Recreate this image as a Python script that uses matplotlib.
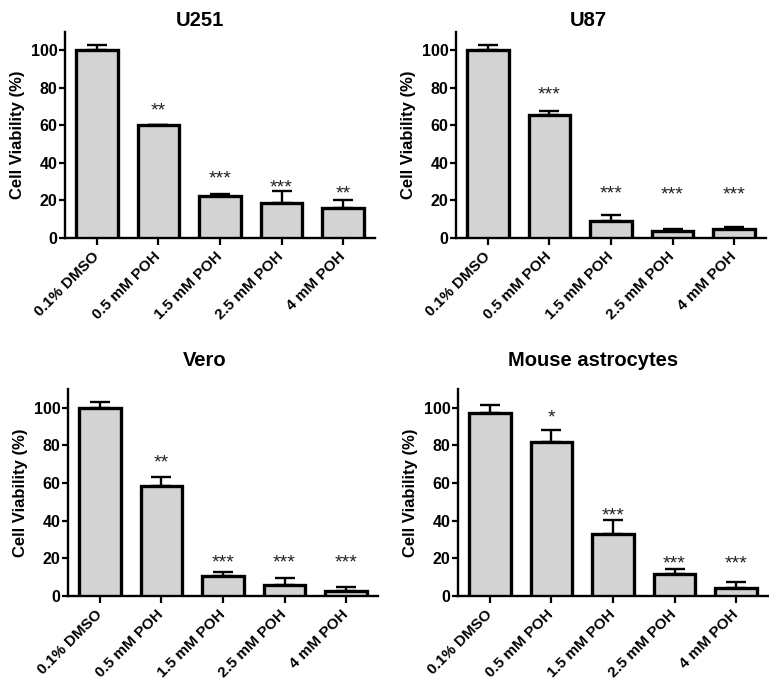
import numpy as np
import matplotlib
matplotlib.use("Agg")
import matplotlib.pyplot as plt

plt.rcParams['font.family'] = ['Liberation Sans', 'DejaVu Sans']
plt.rcParams['font.weight'] = 'bold'

groups = ["0.1% DMSO", "0.5 mM POH", "1.5 mM POH", "2.5 mM POH", "4 mM POH"]
titles = ["U251", "U87", "Vero", "Mouse astrocytes"]

u251_mean = [100, 60, 22.5, 18.5, 15.8]
u251_sd = [3, 0.4, 1.0, 6.5, 4.2]
u251_stars = ["", "**", "***", "***", "**"]
u251_star_y = [0, 70, 33.5, 29, 25.4]

u87_mean = [100, 65.5, 9, 3.5, 4.5]
u87_sd = [3, 2, 3.3, 1.2, 1.2]
u87_stars = ["", "***", "***", "***", "***"]
u87_star_y = [0, 78.5, 25.8, 25, 25]

vero_mean = [100, 58.5, 10.5, 5.8, 2.8]
vero_sd = [3, 4.5, 2, 3.7, 2.2]
vero_stars = ["", "**", "***", "***", "***"]
vero_star_y = [0, 72.8, 20, 20, 20]

astro_mean = [97.3, 82, 33, 11.5, 4]
astro_sd = [4, 6.3, 7.5, 3, 3.5]
astro_stars = ["", "*", "***", "***", "***"]
astro_star_y = [0, 97, 44.6, 19.4, 19.4]

panels = [
    (u251_mean, u251_sd, u251_stars, u251_star_y),
    (u87_mean, u87_sd, u87_stars, u87_star_y),
    (vero_mean, vero_sd, vero_stars, vero_star_y),
    (astro_mean, astro_sd, astro_stars, astro_star_y),
]

W, H = 769, 682
fig = plt.figure(figsize=(W / 100, H / 100), dpi=100)

# axes boxes in pixels: left spine x, zero-line y, top y, title centre x, title y
boxes = [(65, 237.7, 31.7, 200, 20), (456, 237.7, 31.7, 588, 20),
         (68, 596, 389, 205, 360), (458, 596, 389, 593, 360)]
ax_w = 310
star_fs = 14

for (mean, sd, stars, star_y), title, (lx, by, ty, tx, tty) in zip(panels, titles, boxes):
    ax = fig.add_axes([lx / W, 1 - by / H, ax_w / W, (by - ty) / H])
    x = np.arange(len(groups))
    ax.errorbar(x, mean, yerr=[np.zeros(len(sd)), sd], fmt='none', ecolor='black',
                elinewidth=1.7, capsize=7.5, capthick=1.7, zorder=2)
    ax.bar(x, mean, width=0.68, color='#d3d3d3', edgecolor='black', linewidth=2.4, zorder=3)
    for xi, s, sy in zip(x, stars, star_y):
        if s:
            ax.annotate(s, (xi, sy), xytext=(0, -0.45 * star_fs), textcoords='offset points',
                        ha='center', va='baseline', fontsize=star_fs,
                        fontweight='normal', color='#222222')
    ax.set_xlim(-0.52, 4.52)
    ax.set_ylim(0, 110)
    ax.set_yticks([0, 20, 40, 60, 80, 100])
    ax.set_xticks(x)
    ax.set_xticklabels(groups, rotation=45, ha='right', va='center',
                       rotation_mode='anchor', fontsize=11)
    ax.tick_params(axis='y', width=1.6, length=4, pad=1.5, labelsize=11.5)
    ax.tick_params(axis='x', width=1.6, length=5, pad=7)
    for sp in ['top', 'right']:
        ax.spines[sp].set_visible(False)
    for sp in ['left', 'bottom']:
        ax.spines[sp].set_linewidth(1.7)
    ax.set_ylabel("Cell Viability (%)", fontsize=12, fontweight='bold', labelpad=4)
    fig.text(tx / W, 1 - tty / H, title, ha='center', va='center', fontsize=14.5,
             fontweight='bold')

fig.savefig("out.png", dpi=100)
